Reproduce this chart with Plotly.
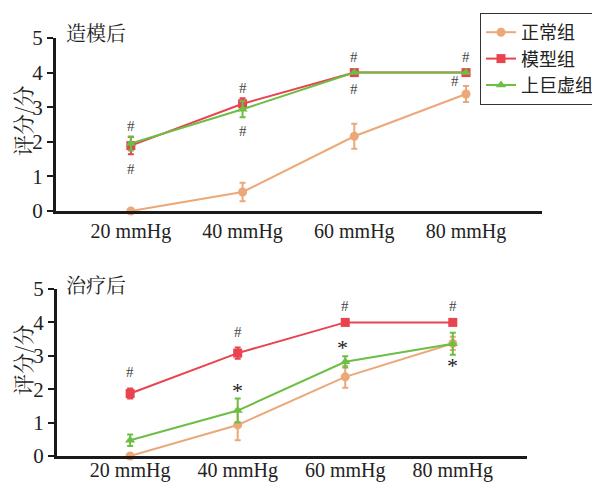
import plotly.graph_objects as go

categories = ["20 mmHg", "40 mmHg", "60 mmHg", "80 mmHg"]
series_names = ["正常组", "模型组", "上巨虚组"]
colors = ["#EBA878", "#E8434E", "#6DBE45"]
symbols = ["circle", "square", "triangle-up"]

# 造模后 (after modeling)
top_normal = [0.0, 0.55, 2.16, 3.38]
top_normal_err = [0.0, 0.27, 0.36, 0.23]
top_model = [1.89, 3.10, 4.0, 4.0]
top_model_err = [0.25, 0.16, 0.0, 0.0]
top_sj = [1.95, 2.94, 4.0, 4.0]
top_sj_err = [0.2, 0.23, 0.0, 0.0]

# 治疗后 (after treatment)
bot_normal = [0.0, 0.93, 2.37, 3.37]
bot_normal_err = [0.0, 0.46, 0.33, 0.2]
bot_model = [1.87, 3.08, 4.0, 4.0]
bot_model_err = [0.15, 0.17, 0.0, 0.0]
bot_sj = [0.47, 1.36, 2.82, 3.36]
bot_sj_err = [0.17, 0.36, 0.17, 0.33]

# significance marks: (category index, y value, text)
top_marks = [(0, 2.45, "#"), (0, 1.22, "#"), (1, 3.55, "#"), (1, 2.3, "#"),
             (2, 4.45, "#"), (2, 3.52, "#"), (3, 4.45, "#"), (2.9, 3.75, "#")]
bot_marks = [(0, 2.52, "#"), (1, 3.7, "#"), (2, 4.5, "#"), (3, 4.5, "#"),
             (1, 1.95, "*"), (1.97, 3.25, "*"), (3, 2.7, "*")]

fig = go.Figure()
xs = list(range(len(categories)))

def add_group(vals_list, errs_list, xa, ya, show):
    for i, (v, e) in enumerate(zip(vals_list, errs_list)):
        fig.add_trace(go.Scatter(
            x=xs, y=v, mode="lines+markers", name=series_names[i],
            xaxis=xa, yaxis=ya, showlegend=show, cliponaxis=False,
            line=dict(color=colors[i], width=2),
            marker=dict(color=colors[i], symbol=symbols[i], size=9),
            error_y=dict(type="data", array=e, visible=True, color=colors[i],
                         thickness=2, width=3),
        ))

add_group([top_normal, top_model, top_sj], [top_normal_err, top_model_err, top_sj_err], "x", "y", True)
add_group([bot_normal, bot_model, bot_sj], [bot_normal_err, bot_model_err, bot_sj_err], "x2", "y2", False)

for (cx, cy, t) in top_marks:
    fig.add_annotation(x=cx, y=cy, text=t, xref="x", yref="y", showarrow=False,
                       font=dict(size=15 if t == "#" else 22, color="#444",
                                 family="Liberation Serif, serif"))
for (cx, cy, t) in bot_marks:
    fig.add_annotation(x=cx, y=cy, text=t, xref="x2", yref="y2", showarrow=False,
                       font=dict(size=15 if t == "#" else 22,
                                 color="#444" if t == "#" else "#222",
                                 family="Liberation Serif, serif"))

W, H = 600, 484
OFF = 8  # page body margin offset

def px(x):
    return (x - OFF) / W

def py(y):
    return 1 - (y - OFF) / H

cjk = "Noto Serif CJK SC, Noto Sans CJK SC"
fig.add_annotation(x=px(64), y=py(32), xref="paper", yref="paper", text="造模后",
                   showarrow=False, xanchor="left", yanchor="middle",
                   font=dict(size=20, color="#222", family=cjk))
fig.add_annotation(x=px(64), y=py(284), xref="paper", yref="paper", text="治疗后",
                   showarrow=False, xanchor="left", yanchor="middle",
                   font=dict(size=20, color="#222", family=cjk))
# y-axis titles
for yc in (121, 360):
    fig.add_annotation(x=px(22), y=py(yc), xref="paper", yref="paper", text="评分/分",
                       showarrow=False, textangle=-90, xanchor="center", yanchor="middle",
                       font=dict(size=21, color="#222", family=cjk))

tickfont = dict(size=21, color="#222", family="Liberation Serif, Noto Sans CJK SC")
xaxis_common = dict(tickvals=xs, ticktext=categories, showgrid=False, zeroline=False,
                    showline=True, linecolor="#1a1a1a", linewidth=3, ticks="",
                    tickfont=dict(size=20, color="#222", family="Liberation Serif"),
                    automargin=False)
yaxis_common = dict(range=[0, 5], tickvals=[0, 1, 2, 3, 4, 5], showgrid=False, zeroline=False,
                    showline=True, linecolor="#1a1a1a", linewidth=3, ticks="outside",
                    ticklen=6, tickwidth=2, tickcolor="#1a1a1a", tickfont=tickfont,
                    automargin=False)

fig.update_layout(
    width=W, height=H, margin=dict(l=0, r=0, t=0, b=0),
    paper_bgcolor="white", plot_bgcolor="white",
    xaxis=dict(domain=[px(56), px(542)], range=[-0.67, 3.68], anchor="y", **xaxis_common),
    yaxis=dict(domain=[py(211), py(38)], anchor="x", **yaxis_common),
    xaxis2=dict(domain=[px(57), px(527)], range=[-0.68, 3.69], anchor="y2",
                ticklabelstandoff=-6, **xaxis_common),
    yaxis2=dict(domain=[py(456), py(289)], anchor="x2", **yaxis_common),
    legend=dict(x=px(480), y=py(13), xanchor="left", yanchor="top",
                bordercolor="#333", borderwidth=1, bgcolor="white",
                font=dict(size=18, color="#222", family="Noto Sans CJK SC"),
                itemwidth=30, tracegroupgap=0),
    showlegend=True,
)

fig.write_html("out.html")
